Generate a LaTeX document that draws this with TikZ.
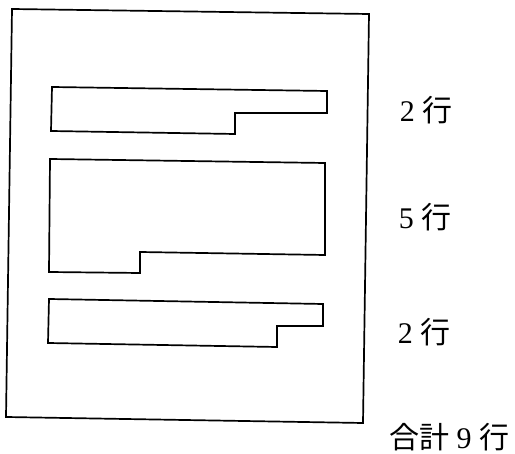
\documentclass[tikz,border=0pt]{standalone}
\usepackage{fontspec}
\setmainfont{Liberation Serif}
\newfontfamily\cjk{Noto Sans CJK JP}
\begin{document}
\begin{tikzpicture}[x=1pt,y=-1pt,
  outline/.style={line width=1.7pt, line join=miter},
  lbl/.style={anchor=center, inner sep=0pt, font=\fontsize{30}{30}\selectfont}]
\useasboundingbox (0,0) rectangle (515,454);
% page frame
\draw[outline] (12,9) -- (369,14) -- (363,423) -- (6,417) -- cycle;
% paragraph blocks
\draw[outline] (52,87) -- (327,91) -- (327,113) -- (235,113) -- (235,134) -- (51,131) -- cycle;
\draw[outline] (50,159) -- (325,163) -- (325,255) -- (140,252) -- (140,273) -- (49,272) -- cycle;
\draw[outline] (49,299) -- (323,304) -- (323,326) -- (277,326) -- (277,347) -- (48,343) -- cycle;
% labels
\node[lbl] (r1) at (426,110) {2 {\cjk 行}};
\node[lbl] (r2) at (425,217) {5 {\cjk 行}};
\node[lbl] (r3) at (424,332) {2 {\cjk 行}};
\node[lbl] (tot) at (449,437) {{\cjk 合計} 9 {\cjk 行}};
\end{tikzpicture}
\end{document}
